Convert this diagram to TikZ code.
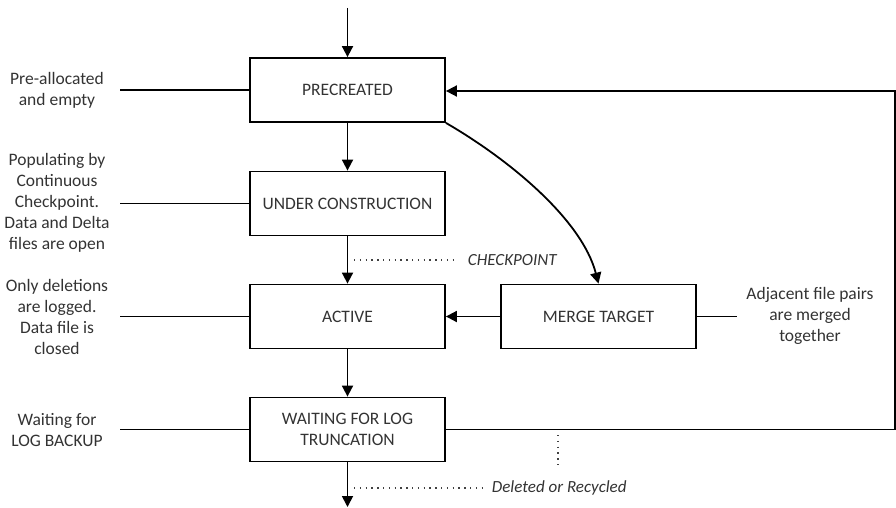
\documentclass[tikz,border=0pt]{standalone}
\usepackage{fontspec}
\setmainfont{Carlito}
\usetikzlibrary{arrows.meta}
\begin{document}
\begin{tikzpicture}[x=1pt,y=-1pt,
  line width=1.8pt,
  statebox/.style={draw, line width=1.8pt, minimum width=195pt, minimum height=64pt, align=center, inner sep=2pt, font=\fontsize{17.5}{21}\selectfont, text=black!80},
  note/.style={align=center, font=\fontsize{17.5}{21}\selectfont, text=black!80, inner sep=0pt},
  remark/.style={font=\fontsize{17}{20}\itshape, text=black!80, inner sep=0pt, anchor=west},
  arr/.style={-{Triangle[length=11pt,width=11pt]}, line width=1.8pt},
  dotline/.style={line width=1.4pt, dash pattern=on 1.4pt off 4.4pt, draw=black!75}
]
\useasboundingbox (0,0) rectangle (896,508);

\node[statebox] (pre) at (347.5,90) {PRECREATED};
\node[statebox] (uc) at (347.5,203.5) {UNDER CONSTRUCTION};
\node[statebox] (act) at (347.5,316.5) {ACTIVE};
\node[statebox] (wait) at (347.5,429.5) {WAITING FOR LOG\\TRUNCATION};
\node[statebox] (merge) at (598.5,316.5) {MERGE TARGET};

\node[note] (npre) at (57,90) {Pre-allocated\\and empty};
\node[note] (nuc) at (57,203) {Populating by\\Continuous\\Checkpoint.\\Data and Delta\\files are open};
\node[note] (nact) at (57,317) {Only deletions\\are logged.\\Data file is\\closed};
\node[note] (nwait) at (57,430) {Waiting for\\LOG BACKUP};
\node[note] (nmerge) at (810,316) {Adjacent file pairs\\are merged\\together};

\coordinate (top) at (347.5,8);
\coordinate (bot) at (347.5,507);
\coordinate (lpre) at (120,90);
\coordinate (luc) at (120,203.5);
\coordinate (lact) at (120,316.5);
\coordinate (lwait) at (120,429.5);
\coordinate (rmerge) at (737,316.5);
\coordinate (rb) at (895,429.5);
\coordinate (rt) at (895,91);

% main flow
\draw[arr] (top) -- (pre.north);
\draw[arr] (pre) -- (uc);
\draw[arr] (uc) -- (act);
\draw[arr] (act) -- (wait);
\draw[arr] (wait.south) -- (bot);
\draw[arr] (merge) -- (act);
\draw[arr] (pre.south east) .. controls (510,160) and (582,220) .. (merge.north);
\draw[arr] (wait.east) -- (rb) -- (rt) -- (pre.east |- rt);

% annotation lines
\draw (lpre) -- (pre.west);
\draw (luc) -- (uc.west);
\draw (lact) -- (act.west);
\draw (lwait) -- (wait.west);
\draw (merge.east) -- (rmerge);

% dotted markers
\coordinate (c1) at (354,260);
\coordinate (c2) at (455,260);
\node[remark] (cp) at (467,260) {CHECKPOINT};
\draw[dotline] (c1) -- (c2);
\coordinate (d1) at (354,488);
\coordinate (d2) at (485,488);
\node[remark] (dr) at (491,488) {Deleted or Recycled};
\draw[dotline] (d1) -- (d2);
\coordinate (v1) at (558,435);
\coordinate (v2) at (558,466);
\draw[dotline] (v1) -- (v2);
\end{tikzpicture}
\end{document}
